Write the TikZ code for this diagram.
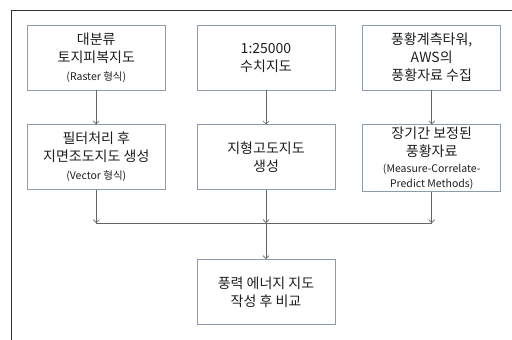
\documentclass[tikz,border=0pt]{standalone}
\usepackage{fontspec}
\setmainfont{Noto Sans CJK KR}
\usepackage{tikz}
\usetikzlibrary{positioning, arrows.meta}
\definecolor{boxline}{RGB}{140,156,172}
\definecolor{arrowgray}{RGB}{100,100,100}
\definecolor{textgray}{RGB}{30,30,30}
\newcommand{\sm}[1]{{\fontsize{10.5}{13}\selectfont #1}}

\begin{document}
\begin{tikzpicture}[x=1pt, y=-1pt,
  box/.style  = {draw=boxline, line width=0.7pt, minimum width=138pt, minimum height=65pt,
                 align=center, inner sep=2pt, text=textgray, font=\fontsize{14}{18}\selectfont},
  link/.style = {->, draw=arrowgray, line width=0.6pt},
  >={Straight Barb[length=3pt,width=6pt]}]

\useasboundingbox (0,0) rectangle (512,340);
% outer frame (top and left edges only)
\draw[line width=0.9pt, black!80] (11.5,340) -- (11.5,10.5) -- (512,10.5);

% first row
\node[box] (b2) at (266,57.5) {1:25000\\수치지도};
\node[box, left=31pt of b2] (b1) {대분류\\토지피복지도\\\sm{(Raster 형식)}};
\node[box, right=27pt of b2] (b3) {풍황계측타워,\\AWS의\\풍황자료 수집};

% second row
\node[box, below=34pt of b1] (b4) {필터처리 후\\지면조도지도 생성\\\sm{(Vector 형식)}};
\node[box, below=34pt of b2] (b5) {지형고도지도\\생성};
\node[box, below=34pt of b3] (b6) {장기간 보정된\\풍황자료\\[-2pt]\sm{(Measure-Correlate-}\\[-3pt]\sm{Predict Methods)}};

% result
\node[box, below=69pt of b5] (b7) {풍력 에너지 지도\\작성 후 비교};

\coordinate (m) at ([yshift=-33pt]b5.south);

% arrows
\foreach \i/\j in {b1/b4, b2/b5, b3/b6}
  \draw[link] (\i) -- (\j);
\foreach \i in {b4, b5, b6}
  \draw[link] (\i) -- (\i.south |- m);
\draw[arrowgray, line width=0.6pt] (b4.south |- m) -- (b6.south |- m);
\draw[link] (m) -- (b7);

\end{tikzpicture}
\end{document}
